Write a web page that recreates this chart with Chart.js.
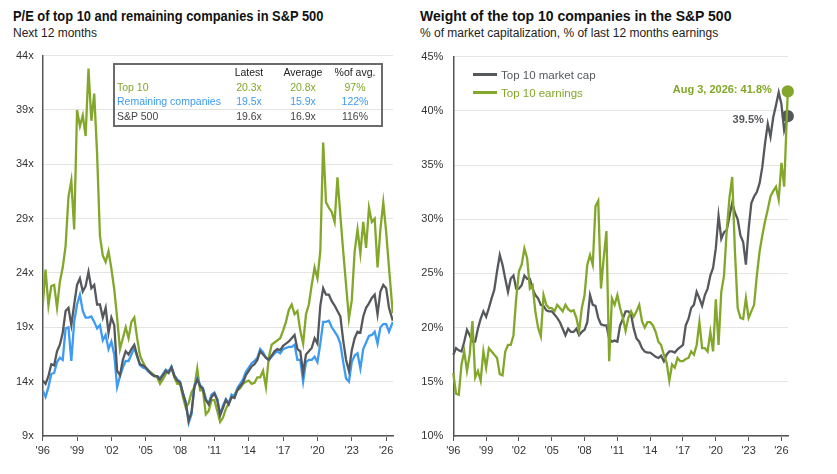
<!DOCTYPE html>
<html>
<head>
<meta charset="utf-8">
<script src="https://cdn.jsdelivr.net/npm/chart.js@4.4.1/dist/chart.umd.min.js"></script>
<style>
  body { margin: 0; width: 837px; height: 474px; background: #fff; position: relative; overflow: hidden;
         font-family: "Liberation Sans", Arial, sans-serif; }
  .title { position: absolute; font-weight: bold; font-size: 14px; color: #111; white-space: nowrap; transform-origin: 0 0; }
  .sub { position: absolute; font-size: 12px; color: #222; white-space: nowrap; }
  canvas { position: absolute; }
  #tbl { position: absolute; left: 113px; top: 63px; width: 266px; height: 60px; border: 2px solid #6b6b6b; font-size: 10.5px; }
  #tbl div { position: absolute; line-height: 14px; white-space: nowrap; }
  .leg { position: absolute; font-size: 11.5px; white-space: nowrap; line-height: 14px; }
  .leg span { display: inline-block; width: 24px; height: 3px; vertical-align: middle; margin-right: 4px; position: relative; top: -1px; }
</style>
</head>
<body>
<div class="title" style="left:13px;top:8px;transform:scaleX(0.92)">P/E of top 10 and remaining companies in S&amp;P 500</div>
<div class="sub" style="left:13px;top:26px">Next 12 months</div>
<div class="title" style="left:420px;top:8px">Weight of the top 10 companies in the S&amp;P 500</div>
<div class="sub" style="left:420px;top:26px">% of market capitalization, % of last 12 months earnings</div>

<canvas id="left" width="410" height="434" style="left:0;top:40px"></canvas>
<canvas id="right" width="422" height="434" style="left:415px;top:40px"></canvas>
<div id="tbl"></div>
<div class="leg" style="left:473px;top:68px;color:#55585c"><span style="background:#55585c"></span>Top 10 market cap</div>
<div class="leg" style="left:473px;top:86px;color:#82a72a"><span style="background:#82a72a"></span>Top 10 earnings</div>

<script>
// quarterly dates, last point is Aug 3, 2026
var dates = [];
for (var y = 1996; y <= 2026; y++) {
  for (var q = 0; q < 4; q++) {
    if (y === 2026 && q > 1) break;
    dates.push(y + q / 4);
  }
}
dates.push(2026.58);

var tickYears = [1996, 1999, 2002, 2005, 2008, 2011, 2014, 2017, 2020, 2023, 2026];

// left chart: forward P/E
var peTop10 = [
  21.0, 24.3, 21.0, 22.8,
  22.9, 20.8, 23.2, 24.5,
  26.5, 31.0, 32.5, 28.0,
  39.0, 37.5, 38.5, 36.6,
  42.8, 38.0, 40.5, 35.0,
  27.4, 25.6, 25.0, 26.0,
  24.4, 22.5, 19.9, 17.0,
  18.0, 19.0, 18.0, 19.5,
  19.9, 18.0, 16.4, 15.8,
  15.3, 15.0, 14.8, 14.6,
  14.4, 13.8, 14.2, 14.7,
  15.0, 15.3, 14.4, 13.8,
  13.8, 12.6, 11.6, 12.0,
  13.0, 13.5, 15.2, 13.2,
  13.2, 11.0, 11.3, 12.3,
  12.3, 11.3, 10.3, 10.7,
  11.5, 12.0, 12.6, 12.8,
  13.2, 13.4, 13.8, 14.0,
  14.1, 13.8, 13.9, 14.4,
  14.4, 15.0, 13.5, 16.2,
  17.4, 17.6, 17.8, 18.0,
  18.7, 19.5, 20.6, 21.1,
  20.2, 20.5, 18.7, 17.5,
  20.2, 21.1, 22.9, 24.5,
  23.5, 26.0, 36.0, 30.5,
  30.0, 29.6, 28.7, 32.8,
  29.3, 26.0, 22.9, 19.8,
  21.5, 26.0, 28.0, 25.8,
  28.7, 26.3, 30.0, 28.7,
  29.0, 24.5, 28.0, 30.5,
  27.8, 24.5, 20.3
];
var peRemaining = [
  13.2, 12.6, 13.5, 14.7,
  14.8, 15.8, 16.2, 16.0,
  18.9, 19.0, 15.9, 19.5,
  21.1, 22.0, 20.5, 19.9,
  19.9, 20.0, 19.5, 18.9,
  19.2, 17.8, 18.3, 17.0,
  17.7, 16.5, 13.5, 14.5,
  15.3, 15.9, 15.9, 16.5,
  17.1, 16.3, 15.5, 15.3,
  15.2, 14.9, 14.7, 14.5,
  14.5, 14.3, 14.7, 15.1,
  14.9, 15.4, 14.6, 14.2,
  14.0, 13.0, 12.1, 10.2,
  11.0, 13.6, 14.3, 13.7,
  13.4, 12.4, 12.0, 12.8,
  13.0, 12.4, 11.0, 11.8,
  12.4, 12.0, 12.8, 12.6,
  13.4, 13.8, 14.2, 14.9,
  15.3, 15.7, 15.9, 16.2,
  17.0, 16.7, 16.2, 16.0,
  16.3, 16.6, 16.8, 16.6,
  17.0, 17.1, 17.2, 17.2,
  17.4, 16.0, 16.0, 14.0,
  15.8, 16.0, 16.0, 16.3,
  15.8, 17.5, 19.5, 19.5,
  19.6, 19.0, 18.6, 18.2,
  17.5, 15.8, 14.3, 14.0,
  15.8, 16.4, 16.6, 15.2,
  17.0, 17.6, 18.2, 18.3,
  18.6, 17.5, 19.0, 19.3,
  19.3, 18.6, 19.5
];
var peSp500 = [
  14.1, 13.8, 14.5, 15.6,
  15.5, 16.8, 17.4, 18.5,
  20.5, 20.8, 19.2, 21.1,
  22.9, 23.5, 22.3, 22.8,
  24.1, 22.6, 22.9, 21.1,
  21.1, 19.9, 20.8, 18.5,
  19.9, 19.2, 15.0, 14.6,
  16.0, 16.8, 16.5, 17.0,
  17.4, 16.4, 15.6, 15.5,
  15.3, 15.0, 14.7, 14.5,
  14.5, 14.2, 14.6, 15.0,
  14.8, 15.3, 14.5, 14.1,
  13.9, 12.9, 12.0, 10.4,
  11.2, 13.5, 14.2, 13.6,
  13.3, 12.3, 11.9, 12.6,
  12.9, 12.3, 10.9, 11.6,
  12.3, 11.9, 12.6, 12.5,
  13.2, 13.6, 13.9, 14.6,
  15.0, 15.4, 15.6, 16.0,
  16.8, 16.5, 16.2, 16.0,
  16.4, 16.8, 17.0, 16.9,
  17.3, 17.5, 17.7, 18.0,
  18.3, 17.0, 16.8, 14.8,
  16.5, 16.8, 17.1, 18.0,
  17.5, 21.0, 22.6, 22.0,
  22.0, 21.4, 21.0, 20.5,
  20.0, 17.8, 16.0, 15.0,
  16.9, 18.0, 18.6, 18.5,
  20.0, 20.8, 21.2, 21.7,
  22.0, 20.2, 22.3, 22.9,
  22.6, 20.8, 19.6
];

// right chart: weight of top 10 (%)
var wtMarketCap = [
  17.5, 18.1, 17.9, 17.8,
  18.7, 19.8, 19.3, 18.7,
  18.7, 19.9, 20.8, 21.5,
  21.0, 21.8, 22.7, 23.5,
  25.2, 26.7, 25.8, 24.5,
  23.3, 24.5, 24.8, 23.6,
  23.6, 23.9, 24.8, 24.5,
  24.5, 23.6, 23.0, 22.7,
  22.1, 22.0, 21.6, 21.5,
  21.5, 21.2, 20.9, 20.5,
  19.9, 19.3, 19.9, 19.6,
  19.6, 19.9, 19.3, 19.6,
  19.8, 20.5, 23.0, 22.1,
  22.0, 20.9, 20.3, 20.2,
  20.2, 19.0, 18.7, 18.8,
  18.7, 20.2, 20.8, 21.5,
  21.5, 21.2, 19.9, 19.0,
  18.7, 18.1, 17.8, 17.7,
  17.7, 17.5, 17.3, 17.2,
  17.4, 16.9, 17.5, 17.8,
  17.8, 17.7, 18.0, 18.2,
  18.4, 20.2, 20.8, 21.8,
  22.1, 23.3, 22.7, 22.0,
  23.0, 23.6, 24.8, 25.5,
  27.3, 30.3, 28.2, 28.8,
  29.0, 30.3, 31.5, 30.6,
  30.0, 28.5, 27.9, 25.8,
  29.1, 31.5, 32.1, 32.5,
  33.3, 34.8, 37.0, 38.8,
  37.6, 39.4, 40.5, 41.7,
  40.6, 38.2, 39.5
];
var wtEarnings = [
  15.8, 13.9, 13.8, 16.6,
  17.8, 16.0, 17.5, 20.6,
  15.4, 16.0, 15.1, 17.8,
  16.3, 18.1, 17.8, 17.5,
  17.2, 15.7, 15.6, 17.8,
  18.4, 18.4, 19.3, 22.7,
  25.2, 25.8, 27.3, 26.4,
  23.6, 23.9, 21.5, 20.0,
  19.2, 23.0, 22.1, 21.8,
  21.8, 21.5, 22.1, 21.8,
  21.5, 22.1, 21.7, 21.5,
  21.6, 20.9, 19.7, 21.8,
  23.0, 25.8, 26.7, 25.8,
  31.2, 31.7, 23.6, 26.4,
  28.9, 16.9, 22.7, 22.1,
  23.0, 21.8, 20.9, 19.7,
  20.9, 21.5, 21.0, 21.5,
  22.1, 20.6, 20.0, 20.5,
  20.5, 20.2, 19.6, 18.7,
  18.4, 17.5, 16.8, 15.1,
  16.6, 16.3, 17.2, 16.9,
  16.9, 17.1, 17.2, 17.8,
  17.5, 18.4, 20.5, 18.1,
  18.1, 17.8, 19.6, 17.8,
  22.6, 18.4, 23.3, 24.8,
  29.0, 32.0, 33.9, 27.0,
  21.8, 20.9, 20.8, 22.7,
  20.9, 21.5, 22.1, 24.8,
  27.0, 28.5, 29.8, 30.9,
  32.1, 32.6, 33.0, 31.8,
  35.2, 33.0, 41.8
];

var tableRows = ["Top 10", "Remaining companies", "S&P 500"];
var tableLatest = ["20.3x", "19.5x", "19.6x"];
var tableAverage = ["20.8x", "15.9x", "16.9x"];
var tablePct = ["97%", "122%", "116%"];

var GREEN = "#82a72a";
var BLUE = "#3d9bf2";
var GRAY = "#55585c";
var rowColors = [GREEN, BLUE, "#444"];

function pts(vals) {
  return vals.map(function (v, i) { return { x: dates[i], y: v }; });
}

// summary table
var tbl = document.getElementById("tbl");
function cell(txt, left, top, color, center) {
  var d = document.createElement("div");
  d.textContent = txt;
  d.style.top = top + "px";
  d.style.color = color;
  if (center) { d.style.left = (left - 40) + "px"; d.style.width = "80px"; d.style.textAlign = "center"; }
  else d.style.left = left + "px";
  tbl.appendChild(d);
}
cell("Latest", 134, 0, "#222", true);
cell("Average", 188, 0, "#222", true);
cell("%of avg.", 240, 0, "#222", true);
tableRows.forEach(function (r, i) {
  var top = [15, 29, 44][i];
  cell(r, 2, top, rowColors[i], false);
  cell(tableLatest[i], 134, top, rowColors[i], true);
  cell(tableAverage[i], 188, top, rowColors[i], true);
  cell(tablePct[i], 240, top, rowColors[i], true);
});

function xScale() {
  return {
    type: "linear", min: 1996, max: 2026.6,
    afterBuildTicks: function (s) { s.ticks = tickYears.map(function (v) { return { value: v }; }); },
    afterFit: function (s) { s.height = 38; },
    ticks: { callback: function (v) { return "'" + String(v % 100).padStart(2, "0"); },
             color: "#333", font: { size: 11, family: "Liberation Sans" }, maxRotation: 0, autoSkip: false, padding: 3 },
    grid: { drawOnChartArea: false, color: "#555", tickLength: 5, lineWidth: 1 },
    border: { color: "#555", width: 1.5 }
  };
}
function yScale(min, max, ticks, suffix, width, pad) {
  return {
    min: min, max: max,
    afterBuildTicks: function (s) { s.ticks = ticks.map(function (v) { return { value: v }; }); },
    afterFit: function (s) { s.width = width; },
    ticks: { callback: function (v) { return v + suffix; }, color: "#333",
             font: { size: 11, family: "Liberation Sans" }, padding: pad },
    grid: { color: "#e4e4e4", drawTicks: false, lineWidth: 1 },
    border: { color: "#555", width: 1.5 }
  };
}
function line(label, vals, color) {
  return { label: label, data: pts(vals), borderColor: color, backgroundColor: color,
           borderWidth: 2.3, pointRadius: 0, tension: 0, fill: false };
}

new Chart(document.getElementById("left"), {
  type: "line",
  data: { datasets: [
    line("S&P 500", peSp500, GRAY),
    line("Remaining companies", peRemaining, BLUE),
    line("Top 10", peTop10, GREEN)
  ] },
  options: {
    responsive: false, animation: false,
    layout: { padding: { top: 12, right: 17, left: 0, bottom: 0 } },
    plugins: { legend: { display: false }, tooltip: { enabled: false } },
    scales: { x: xScale(), y: yScale(9, 44, [9, 14, 19, 24, 29, 34, 39, 44], "x", 42.7, 9) }
  }
});

var endLabels = {
  id: "endLabels",
  afterDatasetsDraw: function (chart) {
    var ctx = chart.ctx;
    var g = chart.getDatasetMeta(0).data;
    var k = chart.getDatasetMeta(1).data;
    var gp = g[g.length - 1], kp = k[k.length - 1];
    ctx.save();
    ctx.font = "bold 11px 'Liberation Sans'";
    ctx.textAlign = "right";
    ctx.textBaseline = "middle";
    ctx.fillStyle = GREEN;
    ctx.fillText("Aug 3, 2026: " + wtEarnings[wtEarnings.length - 1] + "%", gp.x - 16, gp.y - 1);
    ctx.fillStyle = GRAY;
    ctx.fillText(wtMarketCap[wtMarketCap.length - 1] + "%", kp.x - 24, kp.y + 4);
    ctx.restore();
  }
};

function lastDot(n) {
  return function (c) { return c.dataIndex === n - 1 ? 5 : 0; };
}
var dsE = line("Top 10 earnings", wtEarnings, GREEN);
dsE.pointRadius = lastDot(wtEarnings.length);
dsE.clip = false;
var dsM = line("Top 10 market cap", wtMarketCap, GRAY);
dsM.pointRadius = lastDot(wtMarketCap.length);
dsM.clip = false;

new Chart(document.getElementById("right"), {
  type: "line",
  data: { datasets: [dsE, dsM] },
  options: {
    responsive: false, animation: false,
    layout: { padding: { top: 12, right: 49, left: 0, bottom: 0 } },
    plugins: { legend: { display: false }, tooltip: { enabled: false } },
    scales: { x: xScale(), y: yScale(10, 45, [10, 15, 20, 25, 30, 35, 40, 45], "%", 38.3, 10) }
  },
  plugins: [endLabels]
});
</script>
</body>
</html>
